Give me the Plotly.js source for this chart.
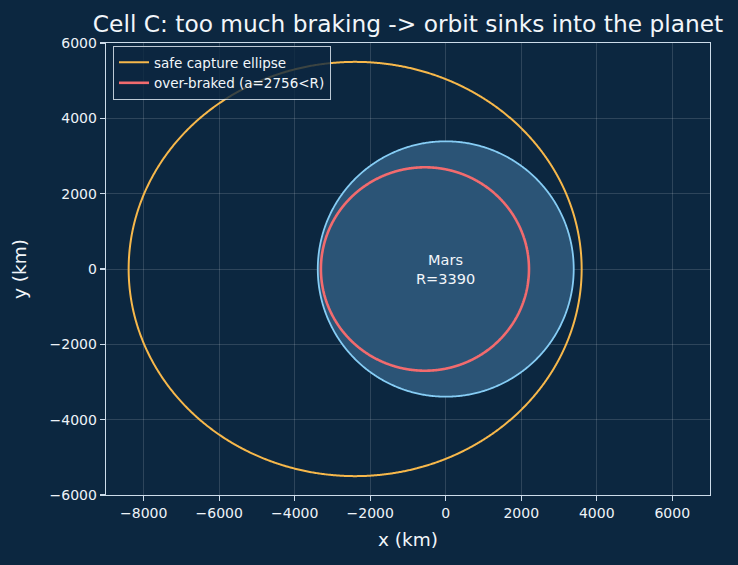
<!DOCTYPE html>
<html>
<head>
<meta charset="utf-8">
<script src="https://cdn.plot.ly/plotly-3.0.1.min.js"></script>
<style>
  html, body { margin: 0; padding: 0; background: #0c2740; }
  #chart { width: 738px; height: 565px; }
</style>
</head>
<body>
<div id="chart"></div>
<script>
// Orbits around Mars: focus at the planet centre, periapsis on +x.
const orbitNames = ['safe capture ellipse', 'over-braked (a=2756<R)'];
const semiMajor = [6000, 2756];          // km
const eccentricity = [0.4, 0.2];
const orbitColors = ['#f7b84b', '#f26b6e'];
const orbitWidths = [2, 2.6];

const marsRadius = 3390;                 // km
const marsLabel = ['Mars', 'R=' + marsRadius];

const xTicks = [-8000, -6000, -4000, -2000, 0, 2000, 4000, 6000];
const yTicks = [-6000, -4000, -2000, 0, 2000, 4000, 6000];

function conic(a, e, n) {
  const p = a * (1 - e * e);
  const xs = [], ys = [];
  for (let i = 0; i <= n; i++) {
    const t = 2 * Math.PI * i / n;
    const r = p / (1 + e * Math.cos(t));
    xs.push(r * Math.cos(t));
    ys.push(r * Math.sin(t));
  }
  return { x: xs, y: ys };
}

const planet = conic(marsRadius, 0, 720);
const traces = [{
  x: planet.x, y: planet.y,
  type: 'scatter', mode: 'lines',
  fill: 'toself', fillcolor: '#2b5476',
  line: { color: '#86cdf5', width: 1.8, simplify: false },
  showlegend: false, hoverinfo: 'skip'
}];

orbitNames.forEach((name, i) => {
  const o = conic(semiMajor[i], eccentricity[i], 1440);
  traces.push({
    x: o.x, y: o.y,
    type: 'scatter', mode: 'lines',
    name: name,
    line: { color: orbitColors[i], width: orbitWidths[i], simplify: false }
  });
});

const axisCommon = {
  showline: true, mirror: true,
  linecolor: '#cddcea', linewidth: 1.3,
  ticks: 'outside', ticklen: 5, tickwidth: 1.2, tickcolor: '#cddcea',
  gridcolor: 'rgba(255,255,255,0.14)', gridwidth: 1,
  zeroline: false,
  tickfont: { family: 'DejaVu Sans', size: 14, color: '#eef3f8' },
  tickmode: 'array'
};

const layout = {
  width: 738, height: 565,
  paper_bgcolor: '#0c2740', plot_bgcolor: '#0c2740',
  margin: { l: 106, r: 28, t: 43, b: 70, autoexpand: false },
  font: { family: 'DejaVu Sans', color: '#eef3f8' },
  title: {
    text: 'Cell C: too much braking -> orbit sinks into the planet',
    font: { family: 'DejaVu Sans', size: 23.3, color: '#f2f6fa' },
    x: 0.5, xref: 'paper', xanchor: 'center',
    y: 1 - 24 / 565, yref: 'container', yanchor: 'middle'
  },
  xaxis: Object.assign({}, axisCommon, {
    range: [-9000, 7000],
    tickvals: xTicks,
    title: { text: 'x (km)', font: { family: 'DejaVu Sans', size: 18.5, color: '#f2f6fa' }, standoff: 13 }
  }),
  yaxis: Object.assign({}, axisCommon, {
    range: [-6000, 6000],
    tickvals: yTicks,
    title: { text: 'y (km)', font: { family: 'DejaVu Sans', size: 18.5, color: '#f2f6fa' }, standoff: 18 }
  }),
  legend: {
    x: 0.0116, y: 0.9934, xanchor: 'left', yanchor: 'top',
    bgcolor: 'rgba(12,39,64,0.8)', bordercolor: 'rgba(220,230,240,0.85)', borderwidth: 1,
    font: { family: 'DejaVu Sans', size: 13.5, color: '#f2f6fa' },
    itemwidth: 30, tracegroupgap: 2
  },
  annotations: [{
    x: 0, y: 0, xref: 'x', yref: 'y',
    text: marsLabel.join('<br>'),
    showarrow: false,
    font: { family: 'DejaVu Sans', size: 14.5, color: '#f2f6fa' },
    xanchor: 'center', yanchor: 'middle'
  }]
};

Plotly.newPlot('chart', traces, layout, { displayModeBar: false, staticPlot: true });
</script>
</body>
</html>
